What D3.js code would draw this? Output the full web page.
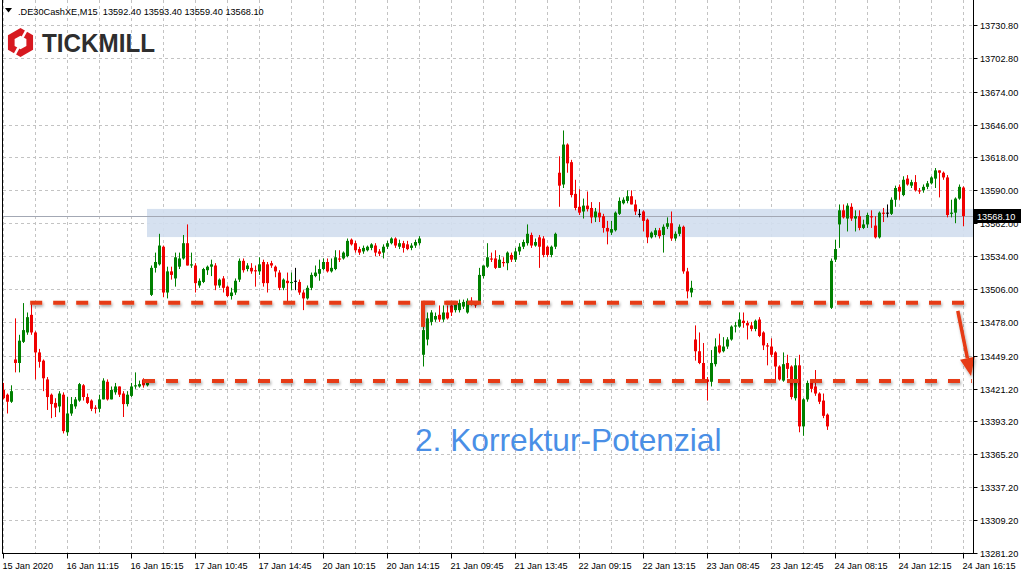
<!DOCTYPE html>
<html><head><meta charset="utf-8">
<script src="https://cdn.jsdelivr.net/npm/d3@7/dist/d3.min.js"></script>
<style>
html,body{margin:0;padding:0;background:#fff;}
svg{display:block;font-family:"Liberation Sans",Arial,sans-serif;}
</style></head>
<body>
<svg id="c" width="1024" height="576"></svg>
<script>
// ---------- DATA ----------
const symbolTitle = ".DE30CashXE,M15  13592.40 13593.40 13559.40 13568.10";
const yTickLabels = ["13730.80","13702.80","13674.00","13646.00","13618.00","13590.00","13562.00","13534.00","13506.00","13478.00","13449.20","13421.20","13393.20","13365.20","13337.20","13309.20","13281.20"];
const xTickLabels = ["15 Jan 2020","16 Jan 11:15","16 Jan 15:15","17 Jan 10:45","17 Jan 14:45","20 Jan 10:15","20 Jan 14:15","21 Jan 09:45","21 Jan 13:45","22 Jan 09:15","22 Jan 13:15","23 Jan 08:45","23 Jan 12:45","24 Jan 08:15","24 Jan 12:15","24 Jan 16:15"];
const barsPerLabel = 16;
const opens = [13420,13416,13410,13446,13443,13461,13469,13484,13469,13452,13445,13429,13416,13409,13406,13416,13384,13400,13406,13411,13424,13414,13411,13405,13404,13412,13427,13412,13418,13423,13417,13408,13415,13423,13423,13429,13424,
13501,13524,13527,13542,13503,13521,13515,13525,13532,13545,13526,13526,13509,13512,13522,13525,13526,13509,13515,13508,13500,13503,13514,13530,13523,13524,13522,13521,13529,13527,13528,13525,13520,13507,13513,13511,13513,13512,13503,13498,13507,13517,13519,13523,13529,13521,13523,13532,13532,13534,13548,13545,13540,13538,13539,13541,13543,13538,13537,13542,13545,13549,13542,13545,13544,13541,13543,13545,
13450,13463,13478,13480,13484,13480,13486,13492,13488,13488,13491,13486,13496,13493,13495,13517,13525,13532,13532,13524,13529,13528,13535,13531,13538,13542,13545,13552,13543,13550,13549,13542,13535,13542,13605,13595,13629,13614,13587,13576,13572,13577,13575,13567,13571,13568,13558,13554,13556,13570,13579,13581,13585,13578,13570,13572,13565,13550,13552,13556,13552,13559,13562,13549,13553,13559,13521,13503,
13463,13453,13443,13429,13427,13442,13458,13453,13457,13463,13474,13474,13479,13477,13475,13472,13480,13469,13458,13457,13452,13440,13428,13443,13440,13413,13441,13389,13412,13426,13423,13417,13411,13399,
13490,13531,13561,13573,13566,13576,13566,13568,13558,13561,13568,13560,13550,13571,13571,13570,13582,13593,13586,13600,13594,13597,13590,13590,13593,13596,13600,13607,13605,13601,13570,13571,13583,13592.4];
const highs = [13426,13417,13424,13481,13467,13494,13486,13494,13470,13455,13446,13431,13417,13413,13419,13418,13414,13414,13414,13426,13425,13417,13412,13407,13416,13430,13429,13423,13426,13423,13419,13419,13426,13435,13428,13430,13429,
13526,13537,13553,13543,13525,13525,13537,13537,13552,13561,13537,13528,13515,13524,13526,13531,13528,13515,13517,13509,13507,13515,13532,13532,13528,13528,13526,13533,13531,13529,13530,13526,13522,13515,13520,13520,13524,13514,13505,13509,13520,13526,13531,13532,13532,13532,13539,13539,13538,13549,13549,13547,13542,13543,13543,13545,13545,13540,13544,13547,13550,13550,13548,13547,13547,13545,13548,13551,
13475,13486,13488,13486,13492,13492,13492,13494,13495,13497,13497,13498,13499,13495,13524,13526,13545,13537,13539,13535,13533,13538,13537,13541,13545,13548,13561,13554,13549,13552,13551,13543,13543,13554,13619,13641,13630,13616,13599,13591,13583,13589,13580,13575,13580,13570,13564,13564,13572,13584,13584,13590,13590,13582,13574,13573,13566,13555,13558,13558,13561,13567,13572,13555,13561,13560,13524,13513,
13475,13469,13460,13431,13454,13464,13468,13465,13465,13475,13478,13486,13486,13479,13478,13480,13482,13470,13460,13464,13453,13441,13452,13450,13441,13447,13450,13413,13428,13429,13437,13418,13417,13400,
13532,13548,13578,13578,13579,13579,13573,13573,13565,13571,13573,13568,13572,13575,13578,13584,13594,13595,13602,13603,13599,13603,13592,13595,13598,13602,13609,13607,13606,13603,13582,13584,13595,13593.4];
const lows = [13412,13400,13409,13435,13435,13460,13467,13467,13429,13439,13419,13403,13396,13397,13401,13383,13381,13398,13404,13410,13411,13408,13402,13400,13401,13412,13411,13412,13416,13414,13397,13406,13414,13421,13422,13422,13423,
13500,13520,13526,13499,13498,13514,13508,13523,13531,13526,13524,13503,13507,13511,13518,13517,13505,13507,13503,13499,13497,13501,13512,13520,13521,13519,13508,13518,13508,13503,13524,13516,13505,13505,13495,13505,13505,13501,13488,13497,13505,13516,13513,13522,13520,13520,13522,13529,13531,13533,13543,13537,13535,13536,13538,13539,13534,13534,13532,13540,13544,13541,13540,13537,13539,13539,13541,13543,
13440,13458,13475,13478,13478,13478,13480,13483,13486,13486,13489,13485,13492,13490,13494,13515,13524,13529,13523,13524,13525,13522,13529,13529,13535,13540,13543,13541,13542,13524,13533,13533,13533,13540,13576,13592,13605,13584,13573,13569,13566,13572,13562,13563,13563,13554,13544,13552,13555,13569,13578,13579,13578,13569,13567,13555,13545,13549,13550,13549,13537,13557,13547,13547,13551,13519,13498,13499,
13445,13442,13426,13411,13423,13440,13451,13452,13455,13462,13469,13473,13473,13463,13470,13470,13465,13454,13441,13448,13428,13428,13427,13430,13412,13411,13384,13381,13410,13418,13415,13408,13396,13386,
13489,13529,13541,13566,13555,13564,13555,13556,13557,13558,13558,13549,13549,13563,13567,13569,13576,13582,13585,13594,13592,13589,13587,13588,13591,13595,13592,13584,13599,13567,13567,13562,13582,13559.4];
const closes = [13413,13410,13419,13443,13462,13471,13482,13469,13452,13444,13430,13414,13408,13405,13417,13385,13400,13408,13412,13425,13414,13409,13404,13404,13412,13428,13412,13420,13423,13416,13408,13416,13423,13424,13425,13424,13428,
13524,13529,13543,13503,13521,13518,13533,13532,13545,13526,13527,13511,13513,13523,13525,13527,13509,13514,13507,13500,13503,13513,13530,13522,13526,13521,13521,13527,13511,13511,13526,13521,13507,13514,13511,13512,13513,13503,13498,13507,13518,13520,13523,13529,13521,13524,13533,13531,13537,13547,13544,13539,13537,13541,13542,13544,13537,13536,13542,13545,13549,13543,13545,13541,13540,13543,13546,13549,
13471,13481,13486,13483,13480,13486,13481,13486,13493,13494,13495,13496,13493,13492,13518,13526,13533,13531,13524,13531,13528,13537,13531,13538,13542,13546,13553,13543,13546,13542,13535,13535,13542,13553,13594,13629,13613,13586,13575,13571,13577,13574,13567,13572,13567,13558,13555,13557,13571,13581,13582,13585,13578,13572,13570,13564,13550,13554,13556,13551,13559,13562,13549,13553,13559,13521,13504,13507,
13453,13443,13428,13427,13443,13457,13452,13457,13463,13474,13475,13480,13477,13475,13472,13479,13466,13458,13457,13450,13440,13429,13442,13438,13414,13441,13389,13412,13426,13421,13417,13410,13398,13389,
13530,13540,13573,13567,13577,13566,13568,13558,13561,13569,13567,13550,13571,13570,13571,13582,13592,13589,13599,13595,13597,13590,13589,13593,13596,13601,13607,13605,13601,13569,13571,13583,13593,13568.1];
const lastPrice = 13568.10;
// annotations (price levels and bar positions)
const zoneTop = 13574.2, zoneBottom = 13550.2, zoneStartBar = 36;
const upperLevel = 13494.2;
const upperSeg1 = [6.8, 119.5];
const upperSeg2 = [105, 240.6];
const lowerLevel = 13427.7;
const lowerSeg = [35, 242.2];
const arrowFrom = [238.7, 13487.3], arrowTo = [242, 13432];
const noteText = "2. Korrektur-Potenzial";

// ---------- LAYOUT ----------
const svg = d3.select("#c");
const L = 3, R = 973.5, T = 0, B = 553.5;
const FS = 9.2;
const x = d3.scaleLinear().domain([0, 240]).range([3, 963]);
const y = d3.scaleLinear().domain([13281.2, 13730.8]).range([553, 25]);
const n = opens.length;

// grid
const grid = svg.append("g").attr("stroke", "#c3c3c3").attr("stroke-dasharray", "3,3").attr("stroke-width", 1);
yTickLabels.forEach(t => {
  const yy = Math.round(y(+t)) + 0.5;
  grid.append("line").attr("x1", L).attr("x2", R).attr("y1", yy).attr("y2", yy);
});
for (let i = 0; i <= 240; i += 8) {
  const xx = Math.round(x(i)) + 0.5;
  grid.append("line").attr("x1", xx).attr("x2", xx).attr("y1", T).attr("y2", B);
}

// blue zone
svg.append("rect").attr("x", Math.round(x(zoneStartBar)))
  .attr("y", y(zoneTop)).attr("width", R - Math.round(x(zoneStartBar)))
  .attr("height", y(zoneBottom) - y(zoneTop)).attr("fill", "#d3deef").attr("opacity", 0.92);

// last price line
svg.append("line").attr("x1", L).attr("x2", R)
  .attr("y1", Math.round(y(lastPrice)) + 0.5).attr("y2", Math.round(y(lastPrice)) + 0.5)
  .attr("stroke", "#a3a8b4").attr("stroke-width", 1);

// candles
const cg = svg.append("g");
const idx = d3.range(n);
function col(i) {
  if (opens[i] === closes[i]) return "#000000";
  return closes[i] > opens[i] ? "#008000" : "#f00000";
}
cg.selectAll("line.w").data(idx).join("line").attr("class", "w")
  .attr("x1", i => Math.round(x(i)) + 0.5).attr("x2", i => Math.round(x(i)) + 0.5)
  .attr("y1", i => y(highs[i])).attr("y2", i => y(lows[i]))
  .attr("stroke", col).attr("stroke-width", 1);
cg.selectAll("rect.b").data(idx).join("rect").attr("class", "b")
  .attr("x", i => Math.round(x(i)) - 1).attr("width", 3)
  .attr("y", i => Math.min(y(opens[i]), y(closes[i])))
  .attr("height", i => Math.max(1, Math.abs(y(opens[i]) - y(closes[i]))))
  .attr("fill", col);

// dashed annotation lines with soft shadow
const defs = svg.append("defs");
const f = defs.append("filter").attr("id", "sh").attr("x", "-5%").attr("y", "-100%").attr("width", "110%").attr("height", "400%");
f.append("feDropShadow").attr("dx", 1).attr("dy", 2).attr("stdDeviation", 1.6).attr("flood-color", "#000").attr("flood-opacity", 0.35);
const ann = svg.append("g").attr("filter", "url(#sh)");
const red = "#e63a12";
function hdash(a, b, lvl) {
  ann.append("line").attr("x1", x(a)).attr("x2", x(b)).attr("y1", y(lvl)).attr("y2", y(lvl))
    .attr("stroke", red).attr("stroke-width", 4).attr("stroke-dasharray", "12,11");
}
hdash(upperSeg1[0], upperSeg1[1], upperLevel);
hdash(upperSeg2[0], upperSeg2[1], upperLevel);
// bracket leg at start of second line
ann.append("line").attr("x1", x(upperSeg2[0])).attr("x2", x(upperSeg2[0]))
  .attr("y1", y(upperLevel) - 2).attr("y2", y(upperLevel) + 24)
  .attr("stroke", red).attr("stroke-width", 4);
hdash(lowerSeg[0], lowerSeg[1], lowerLevel);
// arrow
const ax1 = x(arrowFrom[0]), ay1 = y(arrowFrom[1]), ax2 = x(arrowTo[0]), ay2 = y(arrowTo[1]);
const ang = Math.atan2(ay2 - ay1, ax2 - ax1);
const hl = 18, hw = 7.5;
const bx = ax2 - hl * Math.cos(ang), by = ay2 - hl * Math.sin(ang);
ann.append("line").attr("x1", ax1).attr("y1", ay1).attr("x2", bx).attr("y2", by)
  .attr("stroke", red).attr("stroke-width", 3.5);
ann.append("path").attr("d", `M${ax2},${ay2}L${bx - hw * Math.sin(ang)},${by + hw * Math.cos(ang)}L${bx + hw * Math.sin(ang)},${by - hw * Math.cos(ang)}Z`)
  .attr("fill", red);

// note text
svg.append("text").attr("x", 415).attr("y", 451).attr("font-size", 31.7)
  .attr("fill", "#4a8fe6").text(noteText);

// axes frame
svg.append("line").attr("x1", 2.5).attr("x2", 2.5).attr("y1", 0).attr("y2", B).attr("stroke", "#000");
svg.append("line").attr("x1", R).attr("x2", R).attr("y1", 0).attr("y2", B).attr("stroke", "#000");
svg.append("line").attr("x1", 2).attr("x2", R + 0.5).attr("y1", B).attr("y2", B).attr("stroke", "#000");

// y axis labels
const ya = svg.append("g").attr("font-size", FS).attr("fill", "#000");
yTickLabels.forEach(t => {
  const yy = Math.round(y(+t)) + 0.5;
  ya.append("line").attr("x1", R).attr("x2", R + 4).attr("y1", yy).attr("y2", yy).attr("stroke", "#000");
  ya.append("text").attr("x", 980).attr("y", yy + 3.5).text(t);
});
// x axis labels
const xa = svg.append("g").attr("font-size", FS).attr("fill", "#000");
xTickLabels.forEach((t, k) => {
  const xx = Math.round(x(k * barsPerLabel)) + 0.5;
  xa.append("line").attr("x1", xx).attr("x2", xx).attr("y1", B).attr("y2", B + 5).attr("stroke", "#000");
  xa.append("text").attr("x", xx - 1).attr("y", 569).text(t);
});

// last price box
const lpY = Math.round(y(lastPrice));
svg.append("rect").attr("x", 974).attr("y", lpY - 7).attr("width", 47).attr("height", 14).attr("fill", "#000");
svg.append("text").attr("x", 977).attr("y", lpY + 3.5).attr("font-size", FS).attr("fill", "#fff").text(lastPrice.toFixed(2));

// header
svg.append("path").attr("d", "M5,8L12,8L8.5,12.5Z").attr("fill", "#000");
svg.append("text").attr("x", 18).attr("y", 14.5).attr("font-size", FS).attr("fill", "#000").style("white-space", "pre").text(symbolTitle);

// logo
const cx0 = 20.5, cy0 = 42.5, ro = 14.5, ri = 6.8;
function hex(r) {
  return d3.range(6).map(k => {
    const a = (-90 + 60 * k) * Math.PI / 180;
    return [cx0 + r * Math.cos(a), cy0 + r * Math.sin(a)];
  });
}
const ho = hex(ro), hi = hex(ri);
const pth = "M" + ho.map(p => p.join(",")).join("L") + "Z M" + hi.slice().reverse().map(p => p.join(",")).join("L") + "Z";
svg.append("path").attr("d", pth).attr("fill", "#d71920").attr("fill-rule", "evenodd");
svg.append("line").attr("x1", cx0 + 2).attr("y1", cy0 - 5).attr("x2", cx0 + 8).attr("y2", cy0 - 16)
  .attr("stroke", "#fff").attr("stroke-width", 2.6);
svg.append("line").attr("x1", cx0 - 2).attr("y1", cy0 + 5).attr("x2", cx0 - 8).attr("y2", cy0 + 16)
  .attr("stroke", "#fff").attr("stroke-width", 2.6);
svg.append("text").attr("x", 42).attr("y", 51.5).attr("font-size", 25).attr("font-weight", "bold")
  .attr("fill", "#2e2e2e").attr("textLength", 113).attr("lengthAdjust", "spacingAndGlyphs").text("TICKMILL");
</script>
</body></html>
